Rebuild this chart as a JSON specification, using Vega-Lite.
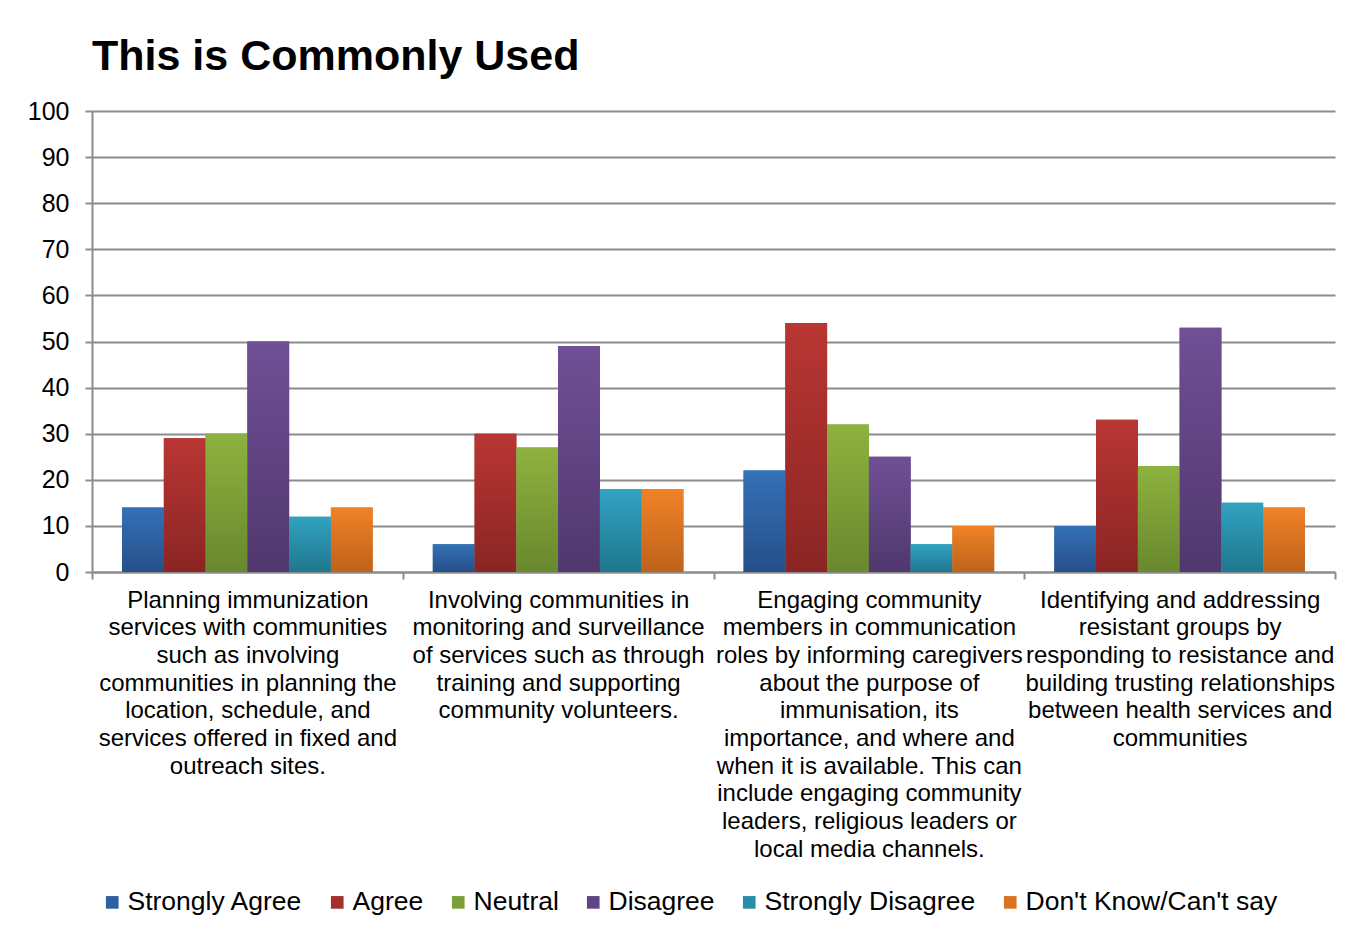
{
  "$schema": "https://vega.github.io/schema/vega-lite/v6.json",
  "width": 1243,
  "height": 461,
  "autosize": {"type": "none"},
  "padding": {"left": 92, "top": 111, "right": 23, "bottom": 361},
  "background": "white",
  "title": {
    "text": "This is Commonly Used",
    "anchor": "start",
    "frame": "group",
    "font": "Liberation Sans",
    "fontSize": 43,
    "fontWeight": "bold",
    "color": "black",
    "baseline": "bottom",
    "offset": -23
  },
  "data": {
    "values": [
      {"statement": "Planning immunization services with communities such as involving communities in planning the location, schedule, and services offered in fixed and outreach sites.", "response": "Strongly Agree", "percent": 14},
      {"statement": "Planning immunization services with communities such as involving communities in planning the location, schedule, and services offered in fixed and outreach sites.", "response": "Agree", "percent": 29},
      {"statement": "Planning immunization services with communities such as involving communities in planning the location, schedule, and services offered in fixed and outreach sites.", "response": "Neutral", "percent": 30},
      {"statement": "Planning immunization services with communities such as involving communities in planning the location, schedule, and services offered in fixed and outreach sites.", "response": "Disagree", "percent": 50},
      {"statement": "Planning immunization services with communities such as involving communities in planning the location, schedule, and services offered in fixed and outreach sites.", "response": "Strongly Disagree", "percent": 12},
      {"statement": "Planning immunization services with communities such as involving communities in planning the location, schedule, and services offered in fixed and outreach sites.", "response": "Don't Know/Can't say", "percent": 14},
      {"statement": "Involving communities in monitoring and surveillance of services such as through training and supporting community volunteers.", "response": "Strongly Agree", "percent": 6},
      {"statement": "Involving communities in monitoring and surveillance of services such as through training and supporting community volunteers.", "response": "Agree", "percent": 30},
      {"statement": "Involving communities in monitoring and surveillance of services such as through training and supporting community volunteers.", "response": "Neutral", "percent": 27},
      {"statement": "Involving communities in monitoring and surveillance of services such as through training and supporting community volunteers.", "response": "Disagree", "percent": 49},
      {"statement": "Involving communities in monitoring and surveillance of services such as through training and supporting community volunteers.", "response": "Strongly Disagree", "percent": 18},
      {"statement": "Involving communities in monitoring and surveillance of services such as through training and supporting community volunteers.", "response": "Don't Know/Can't say", "percent": 18},
      {"statement": "Engaging community members in communication roles by informing caregivers about the purpose of immunisation, its importance, and where and when it is available. This can include engaging community leaders, religious leaders or local media channels.", "response": "Strongly Agree", "percent": 22},
      {"statement": "Engaging community members in communication roles by informing caregivers about the purpose of immunisation, its importance, and where and when it is available. This can include engaging community leaders, religious leaders or local media channels.", "response": "Agree", "percent": 54},
      {"statement": "Engaging community members in communication roles by informing caregivers about the purpose of immunisation, its importance, and where and when it is available. This can include engaging community leaders, religious leaders or local media channels.", "response": "Neutral", "percent": 32},
      {"statement": "Engaging community members in communication roles by informing caregivers about the purpose of immunisation, its importance, and where and when it is available. This can include engaging community leaders, religious leaders or local media channels.", "response": "Disagree", "percent": 25},
      {"statement": "Engaging community members in communication roles by informing caregivers about the purpose of immunisation, its importance, and where and when it is available. This can include engaging community leaders, religious leaders or local media channels.", "response": "Strongly Disagree", "percent": 6},
      {"statement": "Engaging community members in communication roles by informing caregivers about the purpose of immunisation, its importance, and where and when it is available. This can include engaging community leaders, religious leaders or local media channels.", "response": "Don't Know/Can't say", "percent": 10},
      {"statement": "Identifying and addressing resistant groups by responding to resistance and building trusting relationships between health services and communities", "response": "Strongly Agree", "percent": 10},
      {"statement": "Identifying and addressing resistant groups by responding to resistance and building trusting relationships between health services and communities", "response": "Agree", "percent": 33},
      {"statement": "Identifying and addressing resistant groups by responding to resistance and building trusting relationships between health services and communities", "response": "Neutral", "percent": 23},
      {"statement": "Identifying and addressing resistant groups by responding to resistance and building trusting relationships between health services and communities", "response": "Disagree", "percent": 53},
      {"statement": "Identifying and addressing resistant groups by responding to resistance and building trusting relationships between health services and communities", "response": "Strongly Disagree", "percent": 15},
      {"statement": "Identifying and addressing resistant groups by responding to resistance and building trusting relationships between health services and communities", "response": "Don't Know/Can't say", "percent": 14}
    ]
  },
  "encoding": {
    "x": {
      "field": "statement",
      "type": "nominal",
      "sort": null,
      "scale": {"paddingInner": 0, "paddingOuter": 0},
      "axis": {
        "title": null,
        "labelAngle": 0,
        "labelFont": "Liberation Sans",
        "labelFontSize": 24,
        "labelColor": "black",
        "labelLineHeight": 27.7,
        "labelLimit": 0,
        "labelBaseline": "top",
        "labelPadding": 9,
        "tickBand": "extent",
        "tickSize": 7,
        "tickColor": "#8c8c8c",
        "tickWidth": 2,
        "domainColor": "#8c8c8c",
        "domainWidth": 2,
        "labelExpr": "{'Planning i': ['Planning immunization', 'services with communities', 'such as involving', 'communities in planning the', 'location, schedule, and', 'services offered in fixed and', 'outreach sites.'], 'Involving ': ['Involving communities in', 'monitoring and surveillance', 'of services such as through', 'training and supporting', 'community volunteers.'], 'Engaging c': ['Engaging community', 'members in communication', 'roles by informing caregivers', 'about the purpose of', 'immunisation, its', 'importance, and where and', 'when it is available. This can', 'include engaging community', 'leaders, religious leaders or', 'local media channels.'], 'Identifyin': ['Identifying and addressing', 'resistant groups by', 'responding to resistance and', 'building trusting relationships', 'between health services and', 'communities']}[substring(datum.label, 0, 10)]"
      }
    },
    "xOffset": {
      "field": "response",
      "type": "nominal",
      "scale": {"domain": ["Strongly Agree", "Agree", "Neutral", "Disagree", "Strongly Disagree", "Don't Know/Can't say"], "paddingInner": 0, "paddingOuter": 0.72}
    },
    "y": {
      "field": "percent",
      "type": "quantitative",
      "scale": {"domain": [0, 100]},
      "axis": {
        "title": null,
        "values": [0, 10, 20, 30, 40, 50, 60, 70, 80, 90, 100],
        "labelFont": "Liberation Sans",
        "labelFontSize": 25,
        "labelColor": "black",
        "labelPadding": 16,
        "tickSize": 7,
        "tickColor": "#8c8c8c",
        "tickWidth": 2,
        "domainColor": "#8c8c8c",
        "domainWidth": 2,
        "grid": true,
        "gridColor": "#8c8c8c",
        "gridWidth": 2
      }
    }
  },
  "layer": [
    {
      "mark": {"type": "bar"},
      "encoding": {
        "color": {
          "field": "response",
          "type": "nominal",
          "scale": {
            "domain": ["Strongly Agree", "Agree", "Neutral", "Disagree", "Strongly Disagree", "Don't Know/Can't say"],
            "range": ["#2E61A2", "#A42F2C", "#7CA037", "#604584", "#288EA9", "#DA7320"]
          },
          "legend": {
            "title": null,
            "orient": "none",
            "direction": "horizontal",
            "legendX": 7,
            "legendY": 778,
            "symbolType": "square",
            "symbolSize": 160,
            "symbolStrokeWidth": 0,
            "symbolOpacity": 1,
            "labelFont": "Liberation Sans",
            "labelFontSize": 26.5,
            "labelColor": "black",
            "labelOffset": 2,
            "labelLimit": 0,
            "columnPadding": 21
          }
        }
      }
    },
    {
      "transform": [{"filter": "datum.response === 'Strongly Agree'"}],
      "mark": {"type": "bar", "color": {"gradient": "linear", "x1": 0, "y1": 0, "x2": 0, "y2": 1, "stops": [{"offset": 0, "color": "#3471B7"}, {"offset": 1, "color": "#264F89"}]}}
    },
    {
      "transform": [{"filter": "datum.response === 'Agree'"}],
      "mark": {"type": "bar", "color": {"gradient": "linear", "x1": 0, "y1": 0, "x2": 0, "y2": 1, "stops": [{"offset": 0, "color": "#B93633"}, {"offset": 1, "color": "#8A2524"}]}}
    },
    {
      "transform": [{"filter": "datum.response === 'Neutral'"}],
      "mark": {"type": "bar", "color": {"gradient": "linear", "x1": 0, "y1": 0, "x2": 0, "y2": 1, "stops": [{"offset": 0, "color": "#8EB23F"}, {"offset": 1, "color": "#68882D"}]}}
    },
    {
      "transform": [{"filter": "datum.response === 'Disagree'"}],
      "mark": {"type": "bar", "color": {"gradient": "linear", "x1": 0, "y1": 0, "x2": 0, "y2": 1, "stops": [{"offset": 0, "color": "#705096"}, {"offset": 1, "color": "#50376D"}]}}
    },
    {
      "transform": [{"filter": "datum.response === 'Strongly Disagree'"}],
      "mark": {"type": "bar", "color": {"gradient": "linear", "x1": 0, "y1": 0, "x2": 0, "y2": 1, "stops": [{"offset": 0, "color": "#31A2C1"}, {"offset": 1, "color": "#1F778E"}]}}
    },
    {
      "transform": [{"filter": "datum.response === \"Don't Know/Can't say\""}],
      "mark": {"type": "bar", "color": {"gradient": "linear", "x1": 0, "y1": 0, "x2": 0, "y2": 1, "stops": [{"offset": 0, "color": "#F08226"}, {"offset": 1, "color": "#BE621B"}]}}
    }
  ],
  "config": {
    "view": {"stroke": null},
    "axis": {"gridOpacity": 1}
  }
}
